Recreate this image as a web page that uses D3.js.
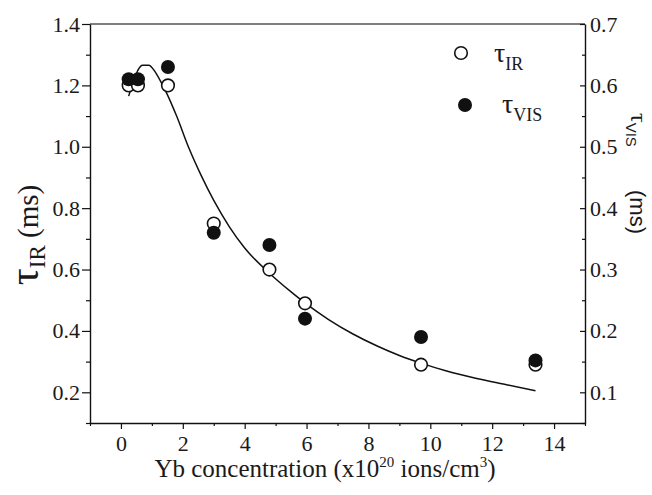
<!DOCTYPE html>
<html>
<head>
<meta charset="utf-8">
<script src="https://cdn.jsdelivr.net/npm/d3@7"></script>
<style>
  body { margin: 0; background: #fff; }
</style>
</head>
<body>
<div id="chart"></div>
<script>
// data
const conc   = [0.25, 0.55, 1.52, 3.0, 4.8, 5.95, 9.7, 13.4];
const tauIR  = [1.20, 1.20, 1.20, 0.75, 0.60, 0.49, 0.29, 0.29];   // ms, left axis
const tauVIS = [0.61, 0.61, 0.63, 0.36, 0.34, 0.22, 0.19, 0.152];  // ms, right axis

// fitted curve (left axis units)
const fitX = [0.25, 0.4, 0.55, 0.7, 0.9, 1.1, 1.3, 1.5, 1.8, 2.2, 2.6, 3.0, 3.5, 4.0, 4.8, 5.5, 6.0, 6.7, 7.5, 8.3, 9.0, 9.7, 10.5, 11.5, 12.5, 13.4];
const fitY = [1.165, 1.21, 1.25, 1.266, 1.266, 1.245, 1.21, 1.17, 1.1, 0.995, 0.905, 0.825, 0.74, 0.67, 0.588, 0.527, 0.487, 0.438, 0.39, 0.35, 0.32, 0.295, 0.27, 0.245, 0.224, 0.205];

const xTicks = [0, 2, 4, 6, 8, 10, 12, 14];
const xMinor = [-1, 1, 3, 5, 7, 9, 11, 13, 15];
const yTicks = [0.2, 0.4, 0.6, 0.8, 1.0, 1.2, 1.4];
const yMinor = [0.1, 0.3, 0.5, 0.7, 0.9, 1.1, 1.3];
const y2Ticks = [0.1, 0.2, 0.3, 0.4, 0.5, 0.6, 0.7];
const y2Minor = [0.05, 0.15, 0.25, 0.35, 0.45, 0.55, 0.65];

const SERIF = '"Liberation Serif"';
const SANS = '"Liberation Sans"';

const W = 652, H = 495;
const pL = 90, pR = 585, pT = 24, pB = 423;

const svg = d3.select("#chart").append("svg")
  .attr("width", W).attr("height", H);

const x = d3.scaleLinear().domain([-1, 15]).range([pL, pR]);
const y = d3.scaleLinear().domain([0.1, 1.4]).range([pB, pT]);
const y2 = d3.scaleLinear().domain([0.05, 0.7]).range([pB, pT]);

// top frame line
svg.append("line")
  .attr("x1", pL).attr("x2", pR).attr("y1", pT).attr("y2", pT)
  .attr("stroke", "#555").attr("stroke-width", 1.3);

// bottom axis
svg.append("g")
  .attr("transform", "translate(0," + pB + ")")
  .call(d3.axisBottom(x).tickValues(xMinor).tickSize(3).tickFormat(""))
  .call(g => g.select(".domain").remove());
svg.append("g")
  .attr("class", "ax")
  .attr("transform", "translate(0," + pB + ")")
  .call(d3.axisBottom(x).tickValues(xTicks).tickSize(6).tickPadding(6).tickSizeOuter(0).tickFormat(d3.format("d")));

// left axis
svg.append("g")
  .attr("transform", "translate(" + pL + ",0)")
  .call(d3.axisLeft(y).tickValues(yMinor).tickSize(4).tickFormat(""))
  .call(g => g.select(".domain").remove());
svg.append("g")
  .attr("class", "ax")
  .attr("transform", "translate(" + pL + ",0)")
  .call(d3.axisLeft(y).tickValues(yTicks).tickSize(8).tickPadding(2).tickSizeOuter(0).tickFormat(d3.format(".1f")));

// right axis, ticks pointing inwards
svg.append("g")
  .attr("transform", "translate(" + pR + ",0)")
  .call(d3.axisRight(y2).tickValues(y2Minor).tickSize(-3).tickFormat(""))
  .call(g => g.select(".domain").remove());
svg.append("g")
  .attr("class", "ax")
  .attr("transform", "translate(" + pR + ",0)")
  .call(d3.axisRight(y2).tickValues(y2Ticks).tickSize(-5).tickPadding(5).tickSizeOuter(0).tickFormat(d3.format(".1f")));

svg.selectAll("g .domain").attr("stroke", "#111").attr("stroke-width", 1.4);
svg.selectAll("g .tick line").attr("stroke", "#111").attr("stroke-width", 1.2);
svg.selectAll(".ax text")
  .style("font-family", SERIF)
  .style("font-size", "22px")
  .attr("fill", "#1a1a1a");

// fit curve
const line = d3.line()
  .x((d, i) => x(fitX[i]))
  .y(d => y(d))
  .curve(d3.curveMonotoneX);
svg.append("path")
  .attr("d", line(fitY))
  .attr("fill", "none")
  .attr("stroke", "#111")
  .attr("stroke-width", 1.5);

// tau IR: open circles
svg.append("g").selectAll("circle")
  .data(tauIR)
  .enter().append("circle")
    .attr("cx", (d, i) => x(conc[i]))
    .attr("cy", d => y(d))
    .attr("r", 6.3)
    .attr("fill", "#fff")
    .attr("stroke", "#111")
    .attr("stroke-width", 1.6);

// tau VIS: filled circles on the right scale
svg.append("g").selectAll("circle")
  .data(tauVIS)
  .enter().append("circle")
    .attr("cx", (d, i) => x(conc[i]))
    .attr("cy", d => y2(d))
    .attr("r", 7)
    .attr("fill", "#111");

// legend
svg.append("circle").attr("cx", 461).attr("cy", 53).attr("r", 6.3)
  .attr("fill", "#fff").attr("stroke", "#111").attr("stroke-width", 1.6);
svg.append("circle").attr("cx", 465).attr("cy", 105).attr("r", 7).attr("fill", "#111");

const lg1 = svg.append("text").attr("x", 494).attr("y", 62)
  .style("font-family", SERIF).attr("fill", "#1a1a1a");
lg1.append("tspan").style("font-size", "28px").text("τ");
lg1.append("tspan").style("font-size", "18px").attr("dy", 8).text("IR");
const lg2 = svg.append("text").attr("x", 502).attr("y", 113)
  .style("font-family", SERIF).attr("fill", "#1a1a1a");
lg2.append("tspan").style("font-size", "28px").text("τ");
lg2.append("tspan").style("font-size", "18px").attr("dy", 8).text("VIS");

// left title
const yt = svg.append("text")
  .attr("transform", "translate(38,235) rotate(-90)")
  .attr("text-anchor", "middle")
  .style("font-family", SERIF)
  .attr("fill", "#1a1a1a");
yt.append("tspan").style("font-size", "42px").text("τ");
yt.append("tspan").style("font-size", "23px").attr("dy", 7).text("IR");
yt.append("tspan").style("font-size", "29px").attr("dy", -7).text(" (ms)");

// right title (rotated the other way)
const rt = svg.append("text")
  .attr("transform", "translate(631,113) rotate(90)")
  .style("font-family", SERIF)
  .attr("fill", "#1a1a1a");
rt.append("tspan").style("font-size", "24px").text("τ");
rt.append("tspan").style("font-size", "15px").style("font-family", SANS)
  .attr("dy", 5).text("VIS");
svg.append("text")
  .attr("transform", "translate(630,190) rotate(90)")
  .style("font-family", SANS)
  .style("font-size", "22px")
  .attr("fill", "#1a1a1a")
  .text("(ms)");

// x title
const xt = svg.append("text")
  .attr("x", 325).attr("y", 477)
  .attr("text-anchor", "middle")
  .style("font-family", SERIF)
  .style("font-size", "25px")
  .attr("fill", "#1a1a1a");
xt.append("tspan").text("Yb concentration (x10");
xt.append("tspan").style("font-size", "15px").attr("dy", -10).text("20");
xt.append("tspan").attr("dy", 10).text(" ions/cm");
xt.append("tspan").style("font-size", "15px").attr("dy", -10).text("3");
xt.append("tspan").attr("dy", 10).text(")");
</script>
</body>
</html>
